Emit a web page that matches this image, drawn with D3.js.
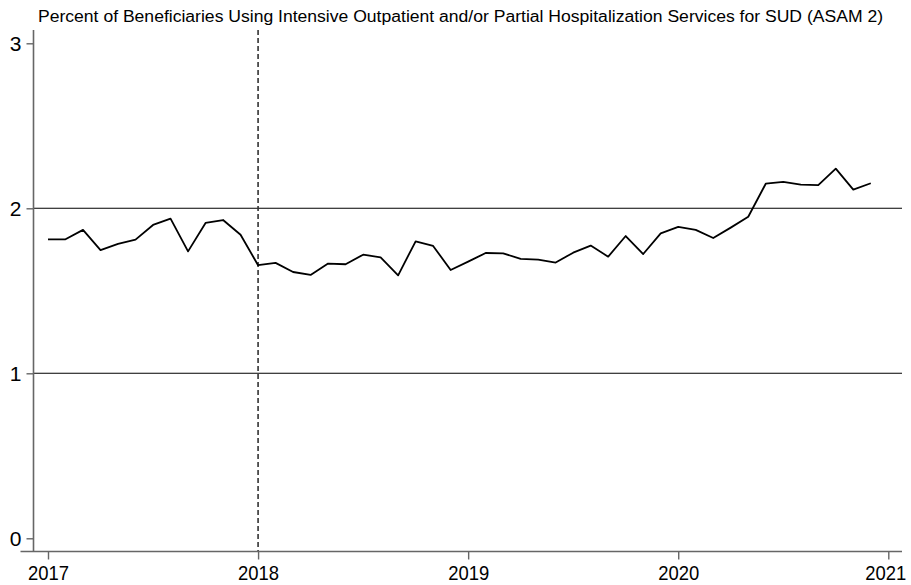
<!DOCTYPE html>
<html>
<head>
<meta charset="utf-8">
<script src="https://cdn.jsdelivr.net/npm/d3@7"></script>
<style>
  body { margin: 0; background: #fff; }
  text { font-family: "Liberation Sans", Arial, Helvetica, sans-serif; fill: #000; }
</style>
</head>
<body>
<div id="viz"></div>
<script>
// monthly series, Jan 2017 .. Dec 2020
const startYear = 2017;
const values = [
  1.812, 1.812, 1.869, 1.747, 1.784, 1.810, 1.899, 1.937, 1.739, 1.911, 1.929, 1.840,
  1.655, 1.669, 1.614, 1.596, 1.665, 1.661, 1.719, 1.703, 1.594, 1.800, 1.772, 1.626,
  1.677, 1.729, 1.727, 1.693, 1.689, 1.671, 1.731, 1.774, 1.707, 1.832, 1.723, 1.848,
  1.887, 1.869, 1.820, 1.883, 1.949, 2.149, 2.160, 2.144, 2.141, 2.240, 2.113, 2.152
];
const xTicks = [2017, 2018, 2019, 2020, 2021];
const yTicks = [0, 1, 2, 3];
const gridValues = [1, 2];
const eventYear = 2018;
const title = "Percent of Beneficiaries Using Intensive Outpatient and/or Partial Hospitalization Services for SUD (ASAM 2)";

const W = 911, H = 585;
const axisX = 33.5, axisY = 551.5, axisTop = 30, axisRight = 902;

const x = d3.scaleLinear().domain([2017, 2021]).range([48, 888.3]);
const y = d3.scaleLinear().domain([0, 3]).range([538.3, 43.3]);

const svg = d3.select("#viz").append("svg")
    .attr("width", W)
    .attr("height", H);

// title, stretched to the width it has in the original
svg.append("text")
    .attr("x", 460.5)
    .attr("y", 21.5)
    .attr("text-anchor", "middle")
    .attr("textLength", 845)
    .attr("lengthAdjust", "spacingAndGlyphs")
    .style("font-size", "16px")
    .text(title);

// grid lines
svg.selectAll(".grid")
  .data(gridValues)
  .join("line")
    .attr("class", "grid")
    .attr("x1", axisX).attr("x2", axisRight)
    .attr("y1", d => y(d)).attr("y2", d => y(d))
    .attr("stroke", "#000")
    .attr("stroke-width", 1.1);

// dashed event line
svg.append("line")
    .attr("x1", x(eventYear)).attr("x2", x(eventYear))
    .attr("y1", axisTop).attr("y2", axisY)
    .attr("stroke", "#333")
    .attr("stroke-width", 1.6)
    .attr("stroke-dasharray", "5,3");

// y axis
const yAxis = svg.append("g")
    .attr("transform", "translate(" + axisX + ",0)")
    .call(d3.axisLeft(y).tickValues(yTicks).tickSize(7).tickPadding(5).tickFormat(d3.format("d")));
yAxis.select(".domain").remove();
yAxis.append("line")
    .attr("y1", axisTop).attr("y2", axisY)
    .attr("stroke", "#666").attr("stroke-width", 1.6);
yAxis.selectAll(".tick line").attr("stroke", "#666").attr("stroke-width", 1.4);
yAxis.selectAll(".tick text")
    .style("font-size", "21px")
    .style("font-family", "'Liberation Sans', Arial, sans-serif")
    .attr("fill", "#000");

// x axis
const xAxis = svg.append("g")
    .attr("transform", "translate(0," + axisY + ")")
    .call(d3.axisBottom(x).tickValues(xTicks).tickSize(8).tickPadding(6).tickFormat(d3.format("d")));
xAxis.select(".domain").remove();
xAxis.append("line")
    .attr("x1", axisX - 13).attr("x2", axisRight)
    .attr("stroke", "#666").attr("stroke-width", 1.6);
xAxis.selectAll(".tick line").attr("stroke", "#666").attr("stroke-width", 1.4);
xAxis.selectAll(".tick text")
    .style("font-size", "21px")
    .style("font-family", "'Liberation Sans', Arial, sans-serif")
    .attr("textLength", 41)
    .attr("lengthAdjust", "spacingAndGlyphs")
    .attr("fill", "#000");
// keep the last label inside the page
xAxis.selectAll(".tick text").filter(d => d === 2021).attr("x", -3);

// series line
const line = d3.line()
    .x((d, i) => x(startYear + i / 12))
    .y(d => y(d));

svg.append("path")
    .datum(values)
    .attr("fill", "none")
    .attr("stroke", "#000")
    .attr("stroke-width", 1.8)
    .attr("stroke-linejoin", "round")
    .attr("d", line);
</script>
</body>
</html>
